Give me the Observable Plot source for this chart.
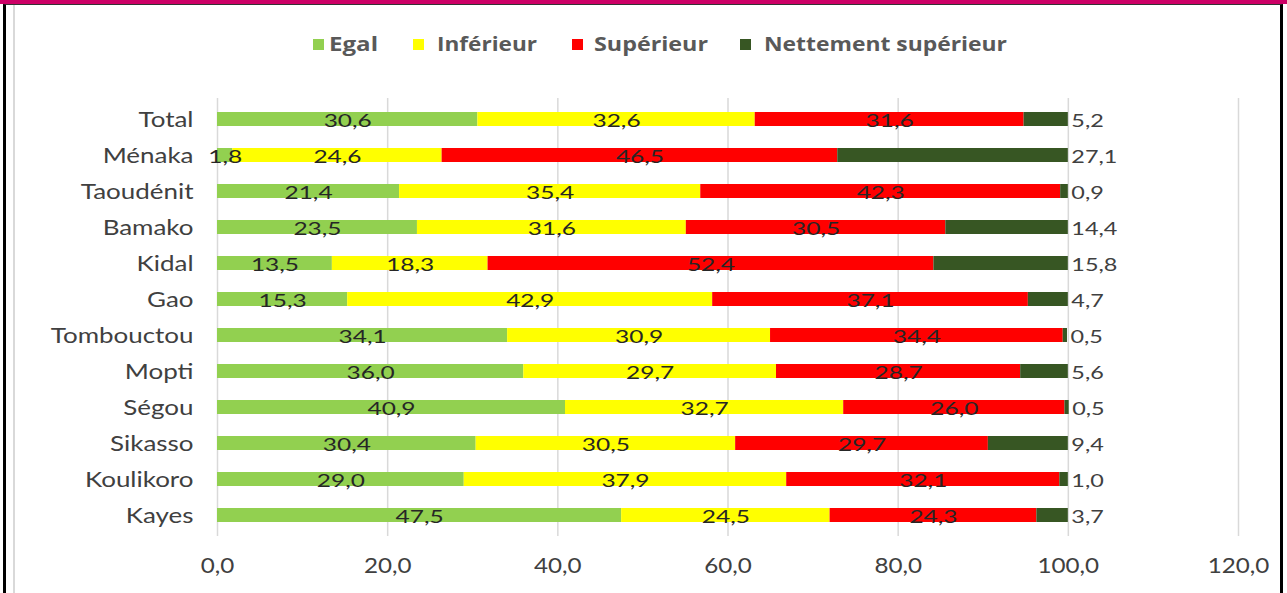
<!DOCTYPE html>
<html>
<head>
<meta charset="utf-8">
<script src="https://cdn.jsdelivr.net/npm/d3@7"></script>
<script src="https://cdn.jsdelivr.net/npm/@observablehq/plot@0.6"></script>
<style>
  html, body { margin: 0; padding: 0; background: #fff; }
  body { width: 1287px; height: 593px; position: relative; overflow: hidden; font-family: Lato, sans-serif; }
  #topbar { position: absolute; left: 0; top: 0; width: 1287px; height: 4px; background: #CC0066; }
  #frame { position: absolute; left: 3px; top: 4px; width: 1274px; height: 600px; border-left: 3px solid #000; border-right: 3px solid #000; border-top: 1px solid #333; }
  #inner { position: absolute; left: 13px; top: 5px; width: 2px; height: 600px; background: #d9d9d9; }
  #legend { position: absolute; top: 29px; left: 0; width: 1287px; height: 30px; }
  .item { position: absolute; top: 0; font-family: "Open Sans", sans-serif; font-weight: 700; font-size: 20px; color: #595959; white-space: nowrap; line-height: 30px; }
  .sw { position: absolute; top: 10px; width: 11px; height: 11px; }
  .lab { display: inline-block; transform-origin: left center; }
  #chart { position: absolute; left: 0; top: 0; }
</style>
</head>
<body>
<div id="topbar"></div>
<div id="frame"></div>
<div id="inner"></div>
<div id="chart"></div>
<div id="legend"></div>
<script>
const regions = ["Total", "Ménaka", "Taoudénit", "Bamako", "Kidal", "Gao", "Tombouctou", "Mopti", "Ségou", "Sikasso", "Koulikoro", "Kayes"];
const seriesNames = ["Egal", "Inférieur", "Supérieur", "Nettement supérieur"];
const seriesColors = ["#92D050", "#FFFF00", "#FF0000", "#375623"];
const egal =       [30.6, 1.8, 21.4, 23.5, 13.5, 15.3, 34.1, 36.0, 40.9, 30.4, 29.0, 47.5];
const inferieur =  [32.6, 24.6, 35.4, 31.6, 18.3, 42.9, 30.9, 29.7, 32.7, 30.5, 37.9, 24.5];
const superieur =  [31.6, 46.5, 42.3, 30.5, 52.4, 37.1, 34.4, 28.7, 26.0, 29.7, 32.1, 24.3];
const nettement =  [5.2, 27.1, 0.9, 14.4, 15.8, 4.7, 0.5, 5.6, 0.5, 9.4, 1.0, 3.7];
const xTicks = [0, 20, 40, 60, 80, 100, 120];

const seriesValues = [egal, inferieur, superieur, nettement];
const data = [];
regions.forEach((r, i) => {
  seriesNames.forEach((s, j) => {
    data.push({region: r, series: s, value: seriesValues[j][i]});
  });
});
const fmt = v => d3.format(".1f")(v).replace(".", ",");

const stackOpts = {order: seriesNames};
const chart = Plot.plot({
  width: 1287,
  height: 593,
  marginLeft: 217,
  marginRight: 49,
  marginTop: 98,
  marginBottom: 57,
  style: {background: "transparent", fontFamily: "Lato, sans-serif"},
  x: {domain: [0, 120], ticks: xTicks, label: null, tickFormat: fmt},
  y: {domain: regions, paddingInner: 0.615, paddingOuter: 0.33, label: null},
  color: {domain: seriesNames, range: seriesColors},
  marks: [
    Plot.gridX(xTicks, {stroke: "#d9d9d9", strokeOpacity: 1, strokeWidth: 1.5}),
    Plot.barX(data, Plot.stackX({x: "value", y: "region", fill: "series", ...stackOpts})),
    Plot.text(data, Plot.stackX({
      x: "value", y: "region", z: "series", ...stackOpts,
      text: d => d.series === "Nettement supérieur" ? "" : fmt(d.value),
      fill: "#262626", fontSize: 18, dy: 2, ariaDescription: "inner-labels"
    })),
    Plot.text(data.filter(d => d.series === "Nettement supérieur"), {
      x: (d) => d3.sum(seriesValues, arr => arr[regions.indexOf(d.region)]),
      y: "region", text: d => fmt(d.value), textAnchor: "start", dx: 3, dy: 2,
      fill: "#404040", fontSize: 18, ariaDescription: "outer-labels"
    }),
    Plot.axisY({tickSize: 0, tickPadding: 24, fontSize: 22, fill: "#404040", label: null}),
    Plot.axisX(xTicks, {tickSize: 0, tickPadding: 21, fontSize: 22, fill: "#404040", label: null, tickFormat: fmt})
  ]
});

// horizontal stretch of text glyphs around each label's anchor point
function stretchTexts(nodes, s) {
  nodes.forEach(t => {
    const tr = t.getAttribute("transform");
    if (tr) {
      t.setAttribute("transform", tr + ` scale(${s},1)`);
    } else {
      const x = +t.getAttribute("x") || 0, y = +t.getAttribute("y") || 0;
      t.setAttribute("transform", `translate(${x},${y}) scale(${s},1) translate(${-x},${-y})`);
    }
  });
}
stretchTexts(chart.querySelectorAll('g[aria-description="inner-labels"] text'), 1.36);
stretchTexts(chart.querySelectorAll('g[aria-description="outer-labels"] text'), 1.3);
stretchTexts(chart.querySelectorAll('g[aria-label="y-axis tick label"] text'), 1.18);
stretchTexts(chart.querySelectorAll('g[aria-label="x-axis tick label"] text'), 1.1);
document.getElementById("chart").appendChild(chart);

// Legend
const legend = document.getElementById("legend");
const swLefts = [313, 413, 572, 740];
const labLefts = [329, 437, 594, 764];
const labWidths = [49, 100, 114, 243];
seriesNames.forEach((s, j) => {
  const box = document.createElement("div");
  box.className = "sw";
  box.style.left = swLefts[j] + "px";
  box.style.background = seriesColors[j];
  legend.appendChild(box);
  const it = document.createElement("div");
  it.className = "item";
  it.style.left = labLefts[j] + "px";
  const lab = document.createElement("span");
  lab.className = "lab";
  lab.textContent = s;
  it.appendChild(lab);
  legend.appendChild(it);
  const w = lab.getBoundingClientRect().width;
  if (w > 0) lab.style.transform = `scaleX(${labWidths[j] / w})`;
});
</script>
</body>
</html>
